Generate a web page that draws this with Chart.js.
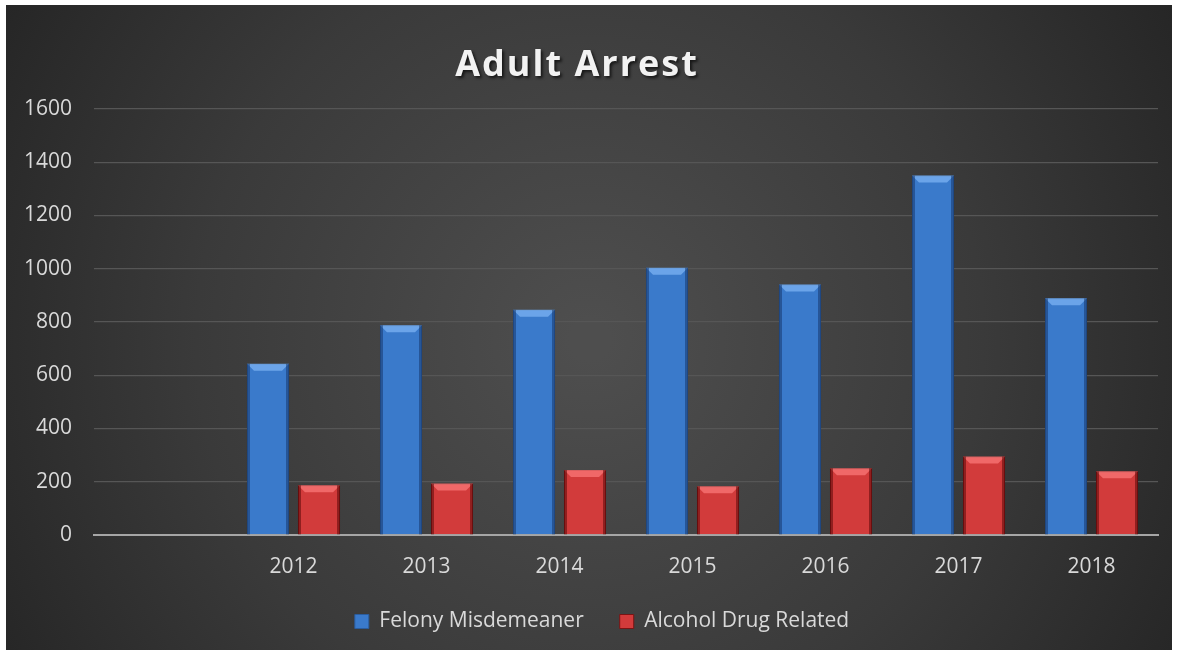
<!DOCTYPE html>
<html>
<head>
<meta charset="utf-8">
<title>Adult Arrest</title>
<script src="https://cdn.jsdelivr.net/npm/chart.js@4.4.1/dist/chart.umd.min.js"></script>
<style>
  html, body { margin: 0; padding: 0; background: #ffffff; }
  #wrap { width: 1179px; height: 654px; }
</style>
</head>
<body>
<div id="wrap"><canvas id="arrestChart" width="1179" height="654"></canvas></div>
<script>
// Data
const categories = ["", "2012", "2013", "2014", "2015", "2016", "2017", "2018"];
const felonyMisdemeaner = [null, 643, 788, 846, 1004, 941, 1350, 889];
const alcoholDrugRelated = [null, 187, 193, 244, 183, 251, 295, 239];
const seriesNames = ["Felony Misdemeaner", "Alcohol Drug Related"];
const yMax = 1600;
const yStep = 200;
const chartTitle = "Adult Arrest";

const FONT = "'Open Sans', 'Liberation Sans', sans-serif";
const TEXT = "#d9d9d9";

// Background panel: white frame with a dark radial gradient inside
const backgroundPlugin = {
    id: "panelBg",
    beforeDraw(chart) {
        const { ctx, width, height } = chart;
        ctx.save();
        ctx.fillStyle = "#ffffff";
        ctx.fillRect(0, 0, width, height);
        const g = ctx.createRadialGradient(590, 340, 20, 590, 340, 700);
        g.addColorStop(0, "#4e4e4e");
        g.addColorStop(0.55, "#3a3a3a");
        g.addColorStop(1, "#242424");
        ctx.fillStyle = g;
        ctx.fillRect(6, 5, width - 13, height - 9);
        ctx.restore();
    }
};

// Legend sits a little right of centre in the original
const legendShift = {
    id: "legendShift",
    afterLayout(chart) {
        chart.legend.left += 23;
        chart.legend.right += 23;
    }
};

// Bevel look on the bars, using the bar elements laid out by Chart.js
const bevelPlugin = {
    id: "bevel",
    afterDatasetsDraw(chart) {
        const { ctx } = chart;
        const tops = ["rgba(120,175,240,0.8)", "rgba(250,120,120,0.75)"];
        const sides = ["rgba(20,50,100,0.5)", "rgba(90,10,10,0.55)"];
        chart.data.datasets.forEach((ds, i) => {
            chart.getDatasetMeta(i).data.forEach((bar, idx) => {
                if (ds.data[idx] == null) return;
                const { x, y, base, width } = bar;
                const l = x - width / 2, r = x + width / 2, b = 7;
                ctx.save();
                ctx.fillStyle = tops[i];
                ctx.beginPath();
                ctx.moveTo(l, y);
                ctx.lineTo(r, y);
                ctx.lineTo(r - b, y + b);
                ctx.lineTo(l + b, y + b);
                ctx.closePath();
                ctx.fill();
                ctx.fillStyle = sides[i];
                ctx.fillRect(l, y, 3, base - y);
                ctx.fillRect(r - 3, y, 3, base - y);
                ctx.restore();
            });
        });
    }
};

// Title with letter spacing and a soft shadow
const titlePlugin = {
    id: "spacedTitle",
    afterDraw(chart) {
        const { ctx } = chart;
        ctx.save();
        ctx.font = "bold 36px " + FONT;
        ctx.letterSpacing = "2px";
        ctx.textAlign = "center";
        ctx.textBaseline = "alphabetic";
        ctx.shadowColor = "rgba(0,0,0,0.65)";
        ctx.shadowOffsetX = 2;
        ctx.shadowOffsetY = 2;
        ctx.shadowBlur = 3;
        ctx.fillStyle = "#f2f2f2";
        ctx.fillText(chartTitle, 577, 76);
        ctx.restore();
    }
};

new Chart(document.getElementById("arrestChart"), {
    type: "bar",
    data: {
        labels: categories,
        datasets: [
            {
                label: seriesNames[0],
                data: felonyMisdemeaner,
                backgroundColor: "#3a7acb",
                borderColor: "#2b5d9e",
                borderWidth: 1,
                categoryPercentage: 0.767,
                barPercentage: 0.824
            },
            {
                label: seriesNames[1],
                data: alcoholDrugRelated,
                backgroundColor: "#d23b3b",
                borderColor: "#7a1414",
                borderWidth: 1,
                categoryPercentage: 0.767,
                barPercentage: 0.824
            }
        ]
    },
    options: {
        responsive: false,
        animation: false,
        layout: { padding: { top: 109, right: 21, bottom: 22, left: 0 } },
        plugins: {
            title: { display: false },
            tooltip: { enabled: false },
            legend: {
                position: "bottom",
                maxHeight: 57,
                labels: {
                    color: TEXT,
                    font: { family: FONT, size: 21 },
                    boxWidth: 14,
                    boxHeight: 14,
                    padding: 36
                }
            }
        },
        scales: {
            x: {
                grid: { display: false, drawTicks: false },
                border: { display: true, color: "#a6a6a6", width: 2 },
                ticks: {
                    color: TEXT,
                    font: { family: FONT, size: 21 },
                    padding: 19,
                    maxRotation: 0
                },
                afterFit: s => { s.height = 40; }
            },
            y: {
                min: 0,
                max: yMax,
                ticks: {
                    stepSize: yStep,
                    color: TEXT,
                    font: { family: FONT, size: 21 },
                    padding: 22,
                    callback: v => String(v)
                },
                grid: {
                    drawTicks: false,
                    color: ctx => ctx.tick && ctx.tick.value === 0 ? "rgba(0,0,0,0)" : "#565656",
                    lineWidth: 1.3
                },
                border: { display: false },
                afterFit: s => { s.width = 94; }
            }
        }
    },
    plugins: [backgroundPlugin, legendShift, bevelPlugin, titlePlugin]
});
</script>
</body>
</html>
